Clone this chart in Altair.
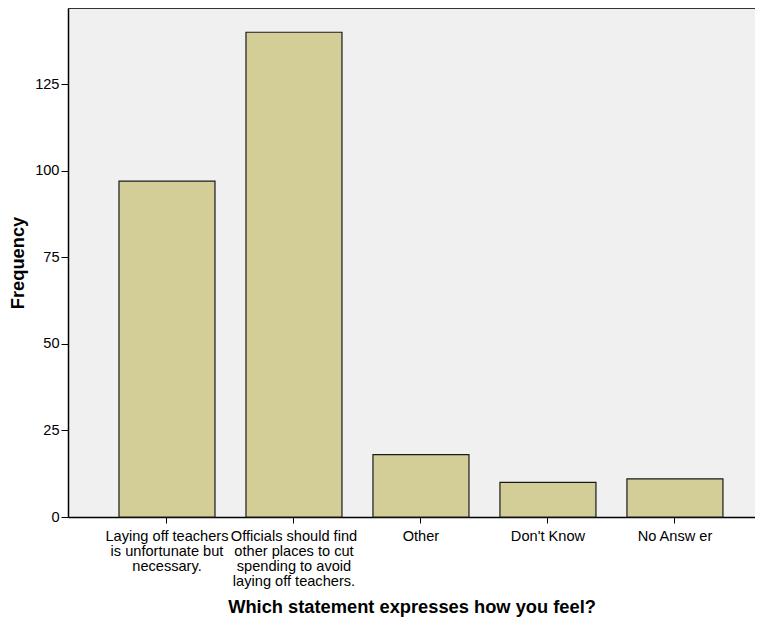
import altair as alt
import pandas as pd

categories = [
    "Laying off teachers|is unfortunate but|necessary.",
    "Officials should find|other places to cut|spending to avoid|laying off teachers.",
    "Other",
    "Don't Know",
    "No Answ er",
]
frequency = [97, 140, 18, 10, 11]

df = pd.DataFrame({"statement": categories, "freq": frequency})

W, H = 687, 509
FONT = "Liberation Sans"
LABEL_SIZE = 14.6
TITLE_SIZE = 18.3

bars = alt.Chart(df).mark_bar(
    fill="#d3ce97", stroke="#1a1a1a", strokeWidth=1.2
).encode(
    x=alt.X(
        "statement:N",
        sort=categories,
        title="Which statement expresses how you feel?",
        scale=alt.Scale(paddingInner=0.244, paddingOuter=0.327, align=0.614),
        axis=alt.Axis(
            labelAngle=0,
            labelExpr="split(datum.label, '|')",
            labelLineHeight=15,
            labelFontSize=LABEL_SIZE,
            labelFont=FONT,
            labelColor="#000000",
            labelPadding=5,
            labelBaseline="top",
            tickSize=6,
            tickColor="#000000",
            domainColor="#000000",
            domainWidth=1.5,
            titleFontSize=TITLE_SIZE,
            titleFont=FONT,
            titleFontWeight="bold",
            titleColor="#000000",
            titlePadding=11,
        ),
    ),
    y=alt.Y(
        "freq:Q",
        title="Frequency",
        scale=alt.Scale(domain=[0, 147], nice=False, zero=True),
        axis=alt.Axis(
            values=[0, 25, 50, 75, 100, 125],
            grid=False,
            labelFontSize=LABEL_SIZE,
            labelFont=FONT,
            labelColor="#000000",
            labelPadding=2,
            tickSize=7,
            tickColor="#000000",
            domainColor="#000000",
            domainWidth=1.5,
            titleFontSize=TITLE_SIZE,
            titleFont=FONT,
            titleFontWeight="bold",
            titleColor="#000000",
            titlePadding=7,
        ),
    ),
)

top_line = alt.Chart(df).mark_rule(color="#333333", strokeWidth=1.5).encode(
    x=alt.value(0), x2=alt.value(W), y=alt.value(0)
)

chart = alt.layer(bars, top_line).properties(
    width=W,
    height=H,
    autosize=alt.AutoSizeParams(type="none"),
    padding={"left": 60, "top": 0, "right": 0, "bottom": 100},
).configure_view(
    fill="#f0f0f0", stroke=None
)

chart.save("out.html", embed_options={"renderer": "svg", "actions": False})
